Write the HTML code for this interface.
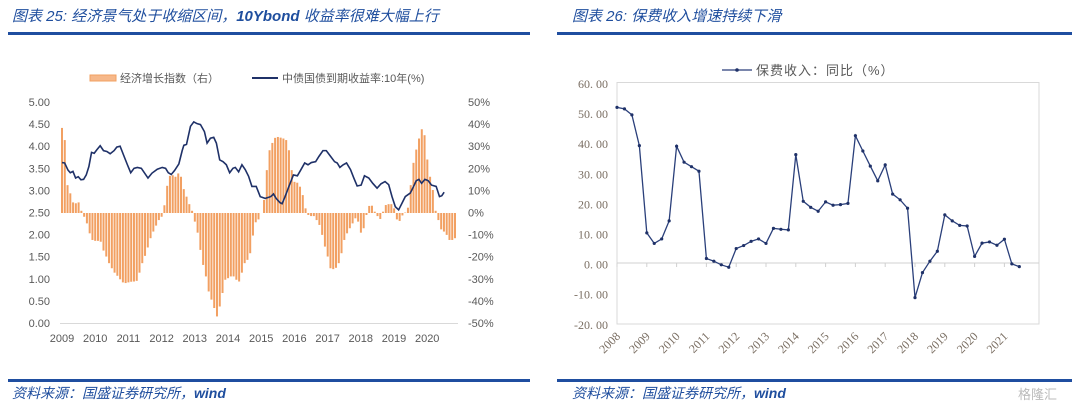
<!DOCTYPE html>
<html><head><meta charset="utf-8"><style>
body{margin:0;width:1080px;height:403px;background:#fff;overflow:hidden;font-family:"Liberation Sans","Noto Sans CJK SC",sans-serif}
.ttl{position:absolute;top:5px;font-style:italic;color:#1f4e9e;font-size:15px;font-family:"Liberation Sans","Noto Sans CJK SC",sans-serif}
.bar{position:absolute;height:3px;background:#1f4ea0}
.src{position:absolute;top:383px;font-style:italic;color:#1f4e9e;font-size:14px}
</style></head><body>
<div class="ttl" style="left:12px">图表 25:  经济景气处于收缩区间，<b>10Ybond</b> 收益率很难大幅上行</div>
<div class="ttl" style="left:572px">图表 26:  保费收入增速持续下滑</div>
<div class="bar" style="left:8px;width:522px;top:32px"></div>
<div class="bar" style="left:557px;width:515px;top:32px"></div>
<div class="bar" style="left:8px;width:522px;top:379px"></div>
<div class="bar" style="left:557px;width:515px;top:379px"></div>
<div class="src" style="left:12px">资料来源：国盛证券研究所，<b>wind</b></div>
<div class="src" style="left:572px">资料来源：国盛证券研究所，<b>wind</b></div>
<div style="position:absolute;left:1018px;top:384px;font-size:13px;color:#bbb">格隆汇</div>
<svg id="sv" width="1080" height="403" style="position:absolute;left:0;top:0"></svg>
<script>
const barValues=[38.5,33,12.6,8.9,4.8,4.4,4.8,1,-1.7,-4.7,-9.2,-12.2,
-12.6,-12.6,-13,-17,-19.7,-22.7,-25,-27,-28.4,-30,-31.4,-31.7,
-31.4,-31.1,-31,-30.7,-27,-22.7,-19.4,-15.6,-11.4,-8.4,-5.7,-3.2,
-1.7,3.5,12.3,16.8,17.1,16.4,17.9,16.4,10.8,7.4,4,1,
-3.9,-8.9,-16.7,-23.5,-28.7,-35.5,-39.2,-43,-46.8,-42.3,-36.2,-30.2,
-29.5,-28.7,-28.7,-30.2,-31,-27,-22.7,-21.2,-18.2,-10.2,-4.2,-2.9,
0,5.9,19.4,28.4,31.7,34,34.4,34.1,33.7,33,28.4,19.4,
14.1,13.7,11.9,8.1,2.1,-0.9,-1.4,-1.4,-3.2,-5.4,-9.9,-15.2,
-19.7,-25,-25.4,-24.8,-22.7,-18.2,-12.2,-9.2,-6.9,-4.7,-2.4,
-3.9,-8.9,-6.9,-0.9,3.2,3.3,0.6,-1.4,-2.7,0.6,3.6,
4,4,2.1,-2.9,-3.6,-1.1,0.2,2.4,12.6,22.7,28.7,33.7,
37.9,35.2,24.2,16.4,10.4,1,-3.2,-7.4,-8.4,-9.9,-12.2,-12.2,-11.4];
const yieldDates=[2009,2009.08,2009.18,2009.25,2009.33,2009.41,2009.49,2009.57,2009.65,2009.73,2009.81,2009.89,2009.97,2010.05,2010.15,2010.25,2010.35,2010.45,2010.57,2010.65,2010.75,2010.87,2010.97,2011.07,2011.17,2011.27,2011.39,2011.49,2011.59,2011.71,2011.87,2012.02,2012.12,2012.2,2012.29,2012.39,2012.52,2012.62,2012.67,2012.75,2012.87,2012.97,2013.07,2013.17,2013.29,2013.37,2013.47,2013.57,2013.65,2013.75,2013.85,2013.95,2014.05,2014.15,2014.22,2014.32,2014.42,2014.52,2014.62,2014.72,2014.85,2014.97,2015.12,2015.29,2015.37,2015.45,2015.57,2015.63,2015.72,2015.85,2015.97,2016.09,2016.19,2016.31,2016.41,2016.51,2016.64,2016.74,2016.86,2016.96,2017.09,2017.21,2017.29,2017.37,2017.47,2017.57,2017.69,2017.79,2017.89,2018.01,2018.11,2018.24,2018.36,2018.49,2018.61,2018.73,2018.84,2018.94,2019.04,2019.14,2019.24,2019.34,2019.49,2019.59,2019.67,2019.75,2019.83,2019.93,2020.03,2020.13,2020.27,2020.37,2020.44,2020.51];
const yieldValues=[3.63,3.62,3.46,3.40,3.43,3.28,3.31,3.24,3.25,3.35,3.54,3.86,3.84,3.92,4.01,3.90,3.88,3.83,3.90,3.98,4.00,3.77,3.58,3.40,3.50,3.52,3.50,3.39,3.28,3.39,3.48,3.52,3.50,3.40,3.36,3.45,3.60,3.90,4.02,4.04,4.45,4.55,4.51,4.49,4.33,4.07,4.18,4.20,4.07,3.69,3.65,3.58,3.40,3.50,3.52,3.42,3.58,3.47,3.32,3.09,3.09,2.86,2.82,2.86,2.92,2.82,2.72,2.70,2.86,3.12,3.35,3.33,3.46,3.62,3.58,3.63,3.65,3.77,3.90,3.90,3.77,3.65,3.62,3.52,3.58,3.62,3.47,3.28,3.10,3.12,3.33,3.28,3.16,3.05,3.15,3.20,3.13,2.86,2.63,2.56,2.71,2.86,2.94,3.09,3.22,3.25,3.16,3.25,3.22,3.12,3.09,2.86,2.88,2.96,2.90];
const leftTicks=["5.00","4.50","4.00","3.50","3.00","2.50","2.00","1.50","1.00","0.50","0.00"];
const rightTicks=["50%","40%","30%","20%","10%","0%","-10%","-20%","-30%","-40%","-50%"];
const leftYears=["2009","2010","2011","2012","2013","2014","2015","2016","2017","2018","2019","2020"];
const premiumValues=[51.7,51.2,49.2,39.0,10,6.5,8.0,14,38.8,33.5,32,30.5,1.5,0.6,-0.6,-1.4,4.8,5.8,7.2,8.0,6.5,11.5,11.2,11.0,36.0,20.5,18.5,17.2,20.3,19.2,19.4,19.8,42.3,37.2,32.2,27.3,32.6,22.9,21.0,18.2,-11.5,-3.2,0.6,3.9,16.0,14.0,12.5,12.3,2.2,6.6,7.0,5.9,7.9,-0.3,-1.2];
const rightTicksY=["60. 00","50. 00","40. 00","30. 00","20. 00","10. 00","0. 00","-10. 00","-20. 00"];
const rightYears=["2008","2009","2010","2011","2012","2013","2014","2015","2016","2017","2018","2019","2020","2021"];

const NS="http://www.w3.org/2000/svg",sv=document.getElementById('sv');
function mk(t,a,txt){const e=document.createElementNS(NS,t);for(const k in a)e.setAttribute(k,a[k]);if(txt!=null)e.textContent=txt;sv.appendChild(e);return e;}
const lx=d=>62+(d-2009)*33.2, lyL=v=>323-v*44.2, lyR=p=>213-p*2.21;
leftTicks.forEach((t,i)=>{const e=mk('text',{x:50,y:102+i*22.1+4,'text-anchor':'end','font-size':11,fill:'#595959'},t);
});
rightTicks.forEach((t,i)=>{const e=mk('text',{x:468,y:102+i*22.1+4,'font-size':11,fill:'#595959'},t);
});
leftYears.forEach((t,i)=>{const e=mk('text',{x:lx(+t),y:342,'text-anchor':'middle','font-size':11,fill:'#595959'},t);
});
const ax=mk('line',{x1:60,x2:458,y1:323.5,y2:323.5,stroke:'#d9d9d9','stroke-width':1});

const step=(455-62)/(barValues.length-1);
barValues.forEach((v,i)=>{const y0=lyR(0),y1=lyR(v);const r=mk('rect',{x:62+i*step-1,y:Math.min(y0,y1),width:2,height:Math.abs(y1-y0),fill:'#f2a062'});
});
const yl=mk('polyline',{points:yieldDates.map((d,i)=>lx(d)+','+lyL(yieldValues[i])).join(' '),fill:'none',stroke:'#1f3168','stroke-width':1.6});

let e=mk('rect',{x:90,y:75,width:26,height:6,fill:'#f6b88a',stroke:'#f2a062'});
e=mk('text',{x:120,y:82,'font-size':11,fill:'#595959'},'经济增长指数（右）');
e=mk('line',{x1:252,x2:278,y1:78,y2:78,stroke:'#1f3168','stroke-width':2});
e=mk('text',{x:282,y:82,'font-size':11,fill:'#595959'},'中债国债到期收益率:10年(%)');
const rx=i=>617+i*7.45, ry=v=>263-v*3.01;
e=mk('rect',{x:617,y:82.5,width:422,height:241.5,fill:'none',stroke:'#d9d9d9'});
e=mk('line',{x1:617,x2:1039,y1:ry(0),y2:ry(0),stroke:'#d0d0d0'});
rightTicksY.forEach((t,i)=>{const el=mk('text',{x:608,y:83+i*30.1+5,'text-anchor':'end','font-size':12,fill:'#7a6e62','font-family':'Liberation Serif,serif'},t);
});
rightYears.forEach((t,i)=>{const x=rx(i*4);const tk=mk('line',{x1:x,x2:x,y1:ry(0),y2:ry(0)+4,stroke:'#d0d0d0'});

const el=mk('text',{x:x+4,y:337,'text-anchor':'end','font-size':12,fill:'#7a6e62','font-family':'Liberation Serif,serif',transform:`rotate(-45 ${x+4} 337)`},t);
});
e=mk('polyline',{points:premiumValues.map((v,i)=>rx(i)+','+ry(v)).join(' '),fill:'none',stroke:'#2a3f7a','stroke-width':1.3});

premiumValues.forEach((v,i)=>{const c=mk('circle',{cx:rx(i),cy:ry(v),r:1.6,fill:'#1f3168'});});
e=mk('line',{x1:722,x2:752,y1:70,y2:70,stroke:'#2a3f7a','stroke-width':1.3});
e=mk('circle',{cx:737,cy:70,r:1.8,fill:'#1f3168'});
e=mk('text',{x:756,y:75,'font-size':13,fill:'#595959','letter-spacing':'1'},'保费收入：同比（%）');
</script>
</body></html>
